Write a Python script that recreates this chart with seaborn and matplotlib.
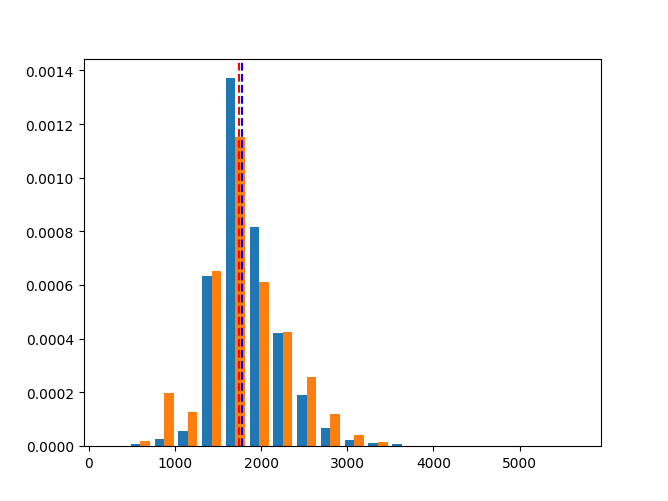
import numpy as np
import pandas as pd
import matplotlib
matplotlib.use("Agg")
import matplotlib.pyplot as plt
import seaborn as sns

# histogram bins (20 equal bins) and density per bin
bin_start = 183.0
bin_width = 276.0
n_bins = 20

blue_density = [0.0, 0.000005, 0.000026, 0.000055, 0.000633, 0.001373, 0.000816,
                0.000419, 0.000189, 0.000066, 0.000023, 0.000009, 0.000006,
                0.0, 0.0, 0.0, 0.0, 0.0, 0.0, 0.0]
orange_density = [0.0, 0.000016, 0.000198, 0.000127, 0.00065, 0.001152, 0.00061,
                  0.000426, 0.000258, 0.000118, 0.000041, 0.000015, 0.0,
                  0.0, 0.0, 0.0, 0.0, 0.0, 0.0, 0.0]

red_line = 1742
blue_line = 1778

edges = bin_start + bin_width * np.arange(n_bins + 1)
centers = (edges[:-1] + edges[1:]) / 2

df_blue = pd.DataFrame({"value": centers, "density": blue_density})
df_orange = pd.DataFrame({"value": centers, "density": orange_density})

fig, ax = plt.subplots(figsize=(6.68, 5.02), dpi=100)

# two side-by-side bars per bin, like matplotlib's multi-dataset hist
sns.histplot(data=df_blue, x="value", weights="density",
             bins=(edges - 0.2 * bin_width).tolist(),
             shrink=0.4, color="#1f77b4", alpha=1, linewidth=0, ax=ax)
sns.histplot(data=df_orange, x="value", weights="density",
             bins=(edges + 0.2 * bin_width).tolist(),
             shrink=0.4, color="#ff7f0e", alpha=1, linewidth=0, ax=ax)

ax.axvline(red_line, color="red", linestyle="--")
ax.axvline(blue_line, color="blue", linestyle="--")

ax.set_xlabel("")
ax.set_ylabel("")

fig.savefig("out.png", dpi=100)
